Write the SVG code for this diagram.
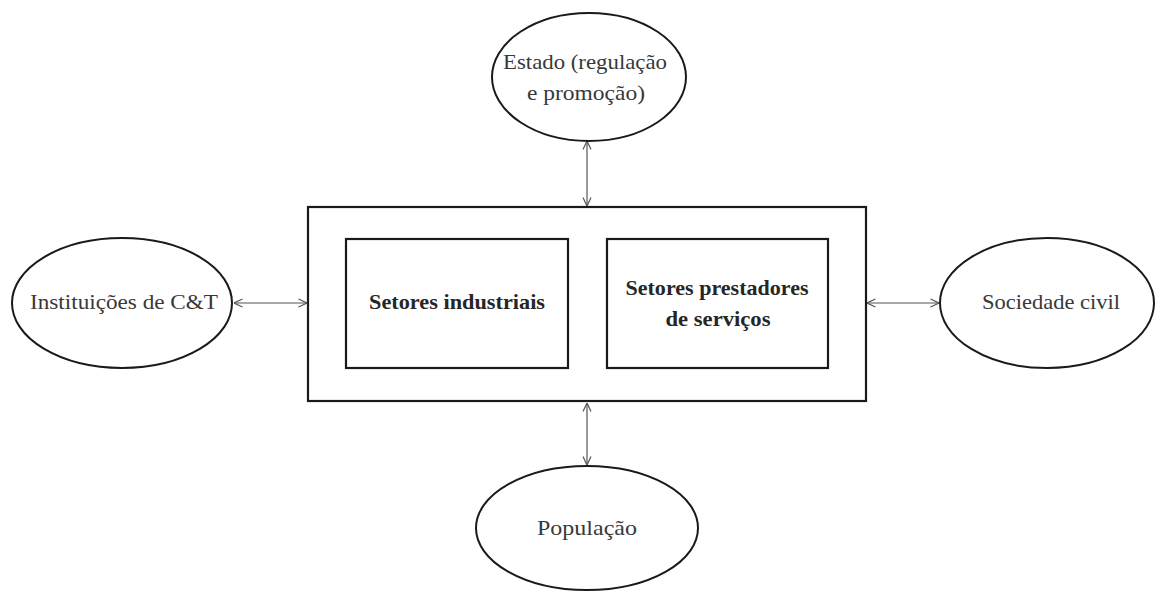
<svg xmlns="http://www.w3.org/2000/svg" width="1164" height="591" viewBox="0 0 1164 591">
<style>
.ell{fill:#fff;stroke:#1a1a1a;stroke-width:2}
.box{fill:#fff;stroke:#1a1a1a;stroke-width:2.2}
.t{font-family:"Liberation Serif","DejaVu Serif",serif;font-size:22px;fill:#383838;text-anchor:middle}
.b{font-family:"Liberation Serif","DejaVu Serif",serif;font-size:21px;font-weight:bold;fill:#262626;text-anchor:middle}
.c{stroke:#555;stroke-width:1.2;fill:none;marker-start:url(#ah);marker-end:url(#ah)}
</style>
<defs>
<marker id="ah" viewBox="0 0 10 10" refX="9.5" refY="5" markerWidth="10" markerHeight="10" markerUnits="userSpaceOnUse" orient="auto-start-reverse">
<path d="M1,1 L9.5,5 L1,9" fill="none" stroke="#555" stroke-width="1.2"/>
</marker>
</defs>
<rect width="1164" height="591" fill="#fff"/>
<g id="connectors">
<line class="c" x1="587" y1="141" x2="587" y2="206"/>
<line class="c" x1="587" y1="403" x2="587" y2="465"/>
<line class="c" x1="234" y1="303" x2="307" y2="303"/>
<line class="c" x1="867" y1="303" x2="939" y2="303"/>
<line class="c" x1="569" y1="303" x2="606" y2="303"/>
</g>
<g id="outer">
<rect class="box" x="308" y="207" width="558" height="194" stroke-width="2.6"/>
</g>
<g id="industriais">
<rect class="box" x="346" y="239" width="222" height="129"/>
<text class="b" x="457" y="309" textLength="176" lengthAdjust="spacingAndGlyphs">Setores industriais</text>
</g>
<g id="servicos">
<rect class="box" x="607" y="239" width="221" height="129"/>
<text class="b" x="717" y="295" textLength="183" lengthAdjust="spacingAndGlyphs">Setores prestadores</text>
<text class="b" x="718" y="326" textLength="105" lengthAdjust="spacingAndGlyphs">de serviços</text>
</g>
<g id="estado">
<ellipse class="ell" cx="589" cy="77" rx="97" ry="64"/>
<text class="t" x="585" y="69" textLength="164" lengthAdjust="spacingAndGlyphs">Estado (regulação</text>
<text class="t" x="586" y="100" textLength="118" lengthAdjust="spacingAndGlyphs">e promoção)</text>
</g>
<g id="instituicoes">
<ellipse class="ell" cx="122" cy="303" rx="110" ry="65"/>
<text class="t" x="124" y="309" textLength="188" lengthAdjust="spacingAndGlyphs">Instituições de C&amp;T</text>
</g>
<g id="sociedade">
<ellipse class="ell" cx="1047" cy="303" rx="107" ry="65"/>
<text class="t" x="1051" y="309" textLength="138" lengthAdjust="spacingAndGlyphs">Sociedade civil</text>
</g>
<g id="populacao">
<ellipse class="ell" cx="587" cy="528" rx="111" ry="62"/>
<text class="t" x="587" y="535" textLength="100" lengthAdjust="spacingAndGlyphs">População</text>
</g>
</svg>
